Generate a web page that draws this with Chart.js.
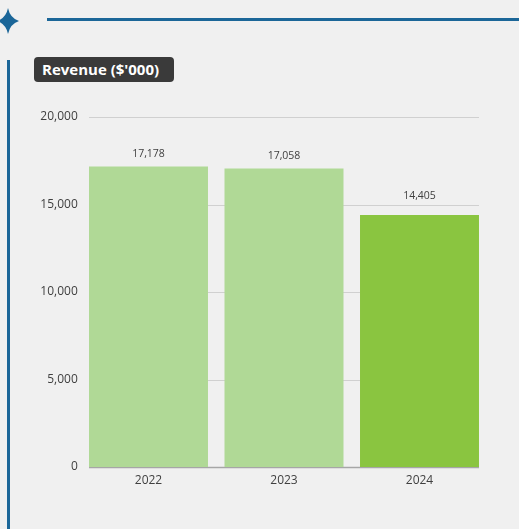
<!DOCTYPE html>
<html>
<head>
<meta charset="utf-8">
<script src="https://cdn.jsdelivr.net/npm/chart.js@4"></script>
<style>
  html, body { margin: 0; padding: 0; background: #f0f0f0; }
  body { width: 519px; height: 529px; position: relative; overflow: hidden; font-family: "Open Sans", sans-serif; }
  #wrap { position: absolute; left: 0; top: 0; width: 519px; height: 529px; }
  .hline { position: absolute; left: 47px; top: 18px; width: 472px; height: 3px; background: #1b6698; }
  .vline { position: absolute; left: 7px; top: 60px; width: 3px; height: 469px; background: #1b6698; }
  .tag { position: absolute; left: 34px; top: 57px; width: 140px; height: 25px; background: #3a3a3a; border-radius: 4px;
         color: #fff; font-weight: bold; font-size: 15px; line-height: 24px; padding-left: 8px; box-sizing: border-box; }
  svg { position: absolute; left: 0; top: 8px; }
</style>
</head>
<body>
<svg width="20" height="26" viewBox="0 0 20 26">
  <path d="M8 0 Q10 10 19 13 Q10 16 8 26 Q6 16 -3 13 Q6 10 8 0 Z" fill="#1b6698"/>
</svg>
<div class="hline"></div>
<div class="vline"></div>
<div class="tag">Revenue ($'000)</div>
<div id="wrap"><canvas id="revChart" width="519" height="529"></canvas></div>
<script>
const years = ['2022', '2023', '2024'];
const revenue = [17178, 17058, 14405];
const barColors = ['#b0d996', '#b0d996', '#8ac540'];
const yTicks = [0, 5000, 10000, 15000, 20000];

const fmt = v => v.toLocaleString('en-US');

// gridlines + baseline only across the bars span, labels on top of bars
const extras = {
    id: 'extras',
    beforeDatasetsDraw(chart) {
        const c = chart.ctx;
        const y = chart.scales.y;
        const bars = chart.getDatasetMeta(0).data;
        const left = bars[0].x - bars[0].width / 2;
        const right = bars[bars.length - 1].x + bars[bars.length - 1].width / 2;
        c.save();
        yTicks.forEach(t => {
            const py = Math.round(y.getPixelForValue(t)) + 0.5;
            c.strokeStyle = t === 0 ? '#a6a6a6' : '#d0d0d0';
            c.lineWidth = t === 0 ? 1.5 : 1;
            c.beginPath();
            c.moveTo(left, py);
            c.lineTo(right, py);
            c.stroke();
        });
        c.restore();
    },
    afterDatasetsDraw(chart) {
        const c = chart.ctx;
        const y = chart.scales.y;
        c.save();
        c.fillStyle = '#404040';
        c.font = '10.5px "Open Sans", sans-serif';
        c.textAlign = 'center';
        c.textBaseline = 'bottom';
        chart.getDatasetMeta(0).data.forEach((bar, i) => {
            let base = bar.y - 7;
            // keep the label clear of a gridline it would sit on
            yTicks.forEach(t => {
                const gy = y.getPixelForValue(t);
                if (gy > base - 12 && gy < base + 2) base = gy - 3;
            });
            c.fillText(fmt(revenue[i]), bar.x, base);
        });
        c.restore();
    }
};

const chart = new Chart(document.getElementById('revChart'), {
    type: 'bar',
    data: {
        labels: years,
        datasets: [{
            data: revenue,
            backgroundColor: barColors,
            borderWidth: 0,
            barPercentage: 1,
            categoryPercentage: 0.878
        }]
    },
    options: {
        responsive: false,
        animation: false,
        devicePixelRatio: 1,
        layout: { padding: { top: 117, left: 0, right: 31.75, bottom: 32 } },
        plugins: { legend: { display: false }, tooltip: { enabled: false } },
        scales: {
            x: {
                grid: { display: false, drawTicks: false },
                border: { display: false },
                ticks: { color: '#404040', font: { family: 'Open Sans', size: 12 }, padding: 6 },
                afterFit: s => { s.height = 30; }
            },
            y: {
                min: 0,
                max: 20000,
                grid: { display: false, drawTicks: false },
                border: { display: false },
                afterBuildTicks: s => { s.ticks = yTicks.map(v => ({ value: v })); },
                ticks: { color: '#404040', font: { family: 'Open Sans', size: 12 }, padding: 3, callback: v => fmt(v) },
                afterFit: s => { s.width = 80.75; }
            }
        }
    },
    plugins: [extras]
});
</script>
</body>
</html>
